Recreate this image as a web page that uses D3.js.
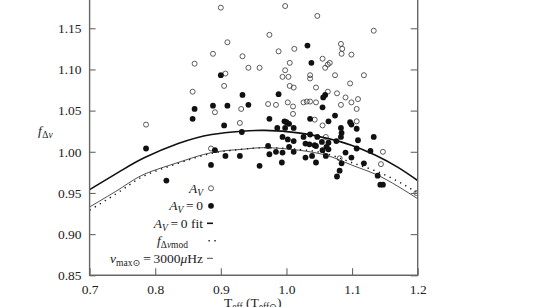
<!DOCTYPE html>
<html>
<head>
<meta charset="utf-8">
<script src="https://cdn.jsdelivr.net/npm/d3@7"></script>
<style>
  body { margin: 0; background: #fff; }
  svg { display: block; }
  text { font-family: "Liberation Serif", "DejaVu Serif", serif; fill: #222; }
</style>
</head>
<body>
<div id="chart"></div>
<script>
// A_V (open circles): [Teff, f_dnu]
const openPts = [
  [0.900,1.175],[0.974,1.142],[0.910,1.133],[0.888,1.119],[0.933,1.116],[0.860,1.107],
  [0.942,1.102],[0.959,1.102],[0.907,1.095],[0.905,1.080],[0.857,1.073],[0.891,1.048],
  [0.931,1.052],[0.972,1.058],[0.929,1.035],[0.786,1.033],[0.885,1.004],[0.998,1.177],
  [1.047,1.165],[1.133,1.147],[0.988,1.122],[1.012,1.125],[1.083,1.131],[1.085,1.125],
  [1.084,1.119],[1.099,1.118],[1.005,1.108],[1.055,1.113],[1.066,1.108],[1.063,1.106],
  [1.059,1.102],[0.998,1.099],[0.994,1.091],[1.003,1.091],[1.036,1.093],[1.036,1.089],
  [1.074,1.093],[1.118,1.093],[1.005,1.080],[1.011,1.078],[1.045,1.078],[1.063,1.073],
  [1.097,1.083],[1.077,1.071],[1.090,1.066],[1.109,1.064],[0.984,1.057],[1.002,1.060],
  [1.010,1.055],[1.026,1.060],[1.031,1.061],[1.036,1.061],[1.045,1.060],[1.083,1.057],
  [1.099,1.060],[1.107,1.052],[1.010,1.046],[1.043,1.039],[1.055,1.032],[1.107,1.037],
  [1.060,1.018],[1.147,1.000],[1.081,0.992],[1.144,0.985],[1.198,0.950]
];

// A_V = 0 (filled circles)
const filledPts = [
  [0.900,1.093],[0.933,1.069],[0.860,1.052],[0.888,1.056],[0.910,1.056],[0.942,1.057],
  [0.857,1.040],[0.905,1.032],[0.974,1.040],[0.932,1.024],[0.786,1.004],[0.891,1.002],
  [0.972,1.007],[0.974,0.997],[0.907,0.995],[0.929,0.995],[0.885,0.984],[0.959,0.983],
  [0.817,0.965],[1.032,1.129],[1.038,1.108],[0.988,1.070],[1.059,1.069],[1.056,1.066],
  [1.055,1.054],[1.074,1.044],[0.997,1.037],[1.000,1.036],[1.004,1.034],[0.986,1.029],
  [1.036,1.040],[1.064,1.037],[1.097,1.036],[1.099,1.033],[1.107,1.028],[0.998,1.029],
  [1.011,1.029],[1.083,1.029],[1.084,1.023],[1.036,1.021],[1.026,1.018],[1.047,1.018],
  [0.994,1.018],[1.002,1.015],[1.011,1.013],[1.083,1.018],[1.054,1.012],[1.064,1.011],
  [1.061,1.006],[1.076,1.013],[1.029,1.010],[1.035,1.009],[1.043,1.008],[1.045,1.007],
  [1.109,1.014],[1.133,1.018],[1.004,1.006],[1.055,1.002],[1.064,1.003],[1.107,1.004],
  [1.128,1.001],[0.984,1.000],[0.994,0.999],[1.011,1.000],[1.029,0.993],[1.039,0.995],
  [1.060,0.995],[1.090,0.999],[1.099,0.993],[0.993,0.987],[1.045,0.987],[1.084,0.986],
  [1.118,0.986],[1.081,0.977],[1.077,0.970],[1.139,0.971],[1.143,0.960],[1.147,0.960]
];

// curves
const curveTeff = [0.70,0.75,0.784,0.835,0.886,0.932,0.967,1.018,1.064,1.099,1.135,1.170,1.20];
const fitVals   = [0.954,0.978,0.993,1.010,1.021,1.025,1.026,1.023,1.016,1.008,0.996,0.981,0.965];
const numaxVals = [0.933,0.957,0.973,0.987,0.999,1.003,1.005,1.002,0.995,0.984,0.973,0.958,0.943];
const modVals   = [0.929,0.954,0.971,0.986,0.998,1.003,1.005,1.003,0.997,0.987,0.977,0.964,0.950];

const xTicks = [0.7,0.8,0.9,1.0,1.1,1.2];
const yTicks = [0.85,0.90,0.95,1.00,1.05,1.10,1.15];

const width = 550, height = 307;
const fontSize = 13.5;

const svg = d3.select("#chart").append("svg")
    .attr("width", width)
    .attr("height", height);

const x = d3.scaleLinear().domain([0.7, 1.2]).range([89.6, 417.7]);
const y = d3.scaleLinear().domain([0.85, 1.20]).range([275.3, -12.9]);

svg.append("clipPath").attr("id", "plotclip")
  .append("rect")
    .attr("x", x(0.7)).attr("y", y(1.2))
    .attr("width", x(1.2) - x(0.7)).attr("height", y(0.85) - y(1.2));

const plot = svg.append("g").attr("clip-path", "url(#plotclip)");

// points
plot.selectAll("circle.open")
  .data(openPts)
  .enter().append("circle")
    .attr("class", "open")
    .attr("cx", d => x(d[0]))
    .attr("cy", d => y(d[1]))
    .attr("r", 2.5)
    .attr("fill", "none")
    .attr("stroke", "#333")
    .attr("stroke-width", 0.8);

plot.selectAll("circle.filled")
  .data(filledPts)
  .enter().append("circle")
    .attr("class", "filled")
    .attr("cx", d => x(d[0]))
    .attr("cy", d => y(d[1]))
    .attr("r", 2.9)
    .attr("fill", "#111");

// curves
const line = d3.line()
    .x(d => x(d[0]))
    .y(d => y(d[1]))
    .curve(d3.curveNatural);

const zip = vals => curveTeff.map((t, i) => [t, vals[i]]);

plot.append("path")
    .attr("d", line(zip(fitVals)))
    .attr("fill", "none")
    .attr("stroke", "#111")
    .attr("stroke-width", 1.6);

plot.append("path")
    .attr("d", line(zip(modVals)))
    .attr("fill", "none")
    .attr("stroke", "#111")
    .attr("stroke-width", 1.4)
    .attr("stroke-dasharray", "1.3,4.6");

plot.append("path")
    .attr("d", line(zip(numaxVals)))
    .attr("fill", "none")
    .attr("stroke", "#222")
    .attr("stroke-width", 0.8);

// axes (ticks inward)
const axisColor = "#666";

function styleAxis(g) {
    g.select(".domain").remove();
    g.selectAll(".tick line").attr("stroke", axisColor).attr("stroke-width", 1.1);
    g.selectAll(".tick text")
        .style("font-size", fontSize + "px")
        .style("font-family", '"Liberation Serif", "DejaVu Serif", serif')
        .attr("fill", "#222");
}

svg.append("g")
    .attr("transform", `translate(0,${y(0.85)})`)
    .call(d3.axisBottom(x).tickValues(xTicks).tickSize(-7).tickPadding(9).tickFormat(d3.format(".1f")))
    .call(styleAxis);

svg.append("g")
    .attr("transform", `translate(${x(0.7)},0)`)
    .call(d3.axisLeft(y).tickValues(yTicks).tickSize(-6).tickPadding(8).tickFormat(d3.format(".2f")))
    .call(styleAxis);

svg.append("g")
    .attr("transform", `translate(${x(1.2)},0)`)
    .call(d3.axisRight(y).tickValues(yTicks).tickSize(-7).tickFormat(""))
    .call(styleAxis);

// frame (top edge is outside the window)
svg.append("path")
    .attr("d", `M${x(0.7)},${y(1.2)}V${y(0.85)}H${x(1.2)}V${y(1.2)}`)
    .attr("fill", "none")
    .attr("stroke", axisColor)
    .attr("stroke-width", 1.4);

// axis titles
const yl = svg.append("text")
    .attr("x", 38).attr("y", 135)
    .style("font-size", fontSize + "px");
yl.append("tspan").attr("font-style", "italic").text("f");
yl.append("tspan").attr("font-size", 9.5).attr("dy", 3).attr("dx", 0.5).text("Δ");
yl.append("tspan").attr("font-size", 9.5).attr("font-style", "italic").text("ν");

const xl = svg.append("text")
    .attr("x", 224).attr("y", 306.5)
    .style("font-size", fontSize + "px");
xl.append("tspan").text("T");
xl.append("tspan").attr("font-size", 9.5).attr("dy", 3).text("eff");
xl.append("tspan").attr("dy", -3).text(" (T");
xl.append("tspan").attr("font-size", 9.5).attr("dy", 3).text("eff⊙");
xl.append("tspan").attr("dy", -3).text(")");

// legend
const legendItems = [
    {key: "av"}, {key: "av0"}, {key: "fit"}, {key: "mod"}, {key: "numax"}
];
const legendTop = 188.3, legendStep = 17.5, textRight = 203, symX = 211;

legendItems.forEach((item, i) => {
    const cy = legendTop + i * legendStep;
    const t = svg.append("text")
        .attr("x", item.key === "mod" ? textRight - 15 : textRight)
        .attr("y", cy + 4.5)
        .attr("text-anchor", "end")
        .style("font-size", fontSize + "px");
    const sub = (s, italic) => t.append("tspan").attr("font-size", 9.5).attr("dy", 3)
        .attr("font-style", italic ? "italic" : "normal").text(s);

    if (item.key === "av" || item.key === "av0" || item.key === "fit") {
        t.append("tspan").attr("font-style", "italic").text("A");
        sub("V", true);
        if (item.key !== "av") t.append("tspan").attr("dy", -3).text("\u2009=\u20090");
        if (item.key === "fit") t.append("tspan").text(" fit");
    } else if (item.key === "mod") {
        t.append("tspan").attr("font-style", "italic").text("f");
        sub("Δ", false);
        t.append("tspan").attr("font-size", 9.5).attr("font-style", "italic").text("ν");
        t.append("tspan").attr("font-size", 9.5).text("mod");
    } else {
        t.append("tspan").attr("font-style", "italic").text("ν");
        sub("max⊙", false);
        t.append("tspan").attr("dy", -3).text("\u2009=\u20093000");
        t.append("tspan").attr("font-style", "italic").text("μ");
        t.append("tspan").text("Hz");
    }

    if (item.key === "av") {
        svg.append("circle").attr("cx", symX).attr("cy", cy).attr("r", 2.5)
            .attr("fill", "none").attr("stroke", "#333").attr("stroke-width", 0.8);
    } else if (item.key === "av0") {
        svg.append("circle").attr("cx", symX).attr("cy", cy).attr("r", 2.9).attr("fill", "#111");
    } else if (item.key === "fit") {
        svg.append("line").attr("x1", symX - 4).attr("x2", symX + 2).attr("y1", cy).attr("y2", cy)
            .attr("stroke", "#111").attr("stroke-width", 1.6);
    } else if (item.key === "mod") {
        svg.append("line").attr("x1", symX - 2.5).attr("x2", symX + 5).attr("y1", cy).attr("y2", cy)
            .attr("stroke", "#111").attr("stroke-width", 1.4).attr("stroke-dasharray", "1.3,4.6");
    } else {
        svg.append("line").attr("x1", symX - 4).attr("x2", symX + 2).attr("y1", cy).attr("y2", cy)
            .attr("stroke", "#222").attr("stroke-width", 0.8);
    }
});
</script>
</body>
</html>
